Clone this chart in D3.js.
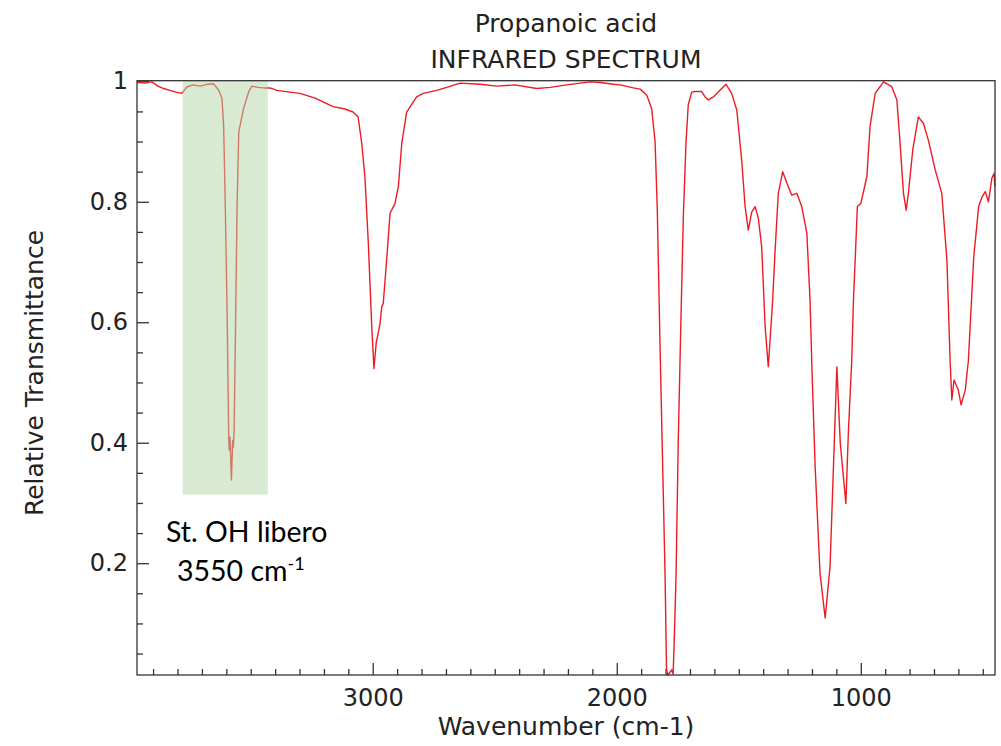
<!DOCTYPE html>
<html>
<head>
<meta charset="utf-8">
<script src="https://cdn.jsdelivr.net/npm/d3@7"></script>
<style>
  body { margin: 0; background: #fff; }
  svg { display: block; }
  .axis text { font-family: "DejaVu Sans", sans-serif; font-size: 24px; fill: #222; }
  .axis line { stroke: #333; stroke-width: 1.3; }
</style>
</head>
<body>
<script>
// spectrum: wavenumber (cm-1) and relative transmittance
const wavenumbers = [
  3966, 3933, 3905, 3880, 3857, 3831, 3806, 3782, 3761, 3736, 3708, 3679, 3652,
  3631, 3618, 3611, 3604, 3597, 3590, 3588, 3585, 3579, 3574, 3571, 3568, 3563,
  3556, 3549, 3529, 3508, 3495, 3470, 3447, 3421, 3392, 3339, 3298, 3236, 3163,
  3114, 3081, 3060, 3045, 3032, 3018, 3004, 2995, 2986, 2970, 2963, 2957, 2943,
  2929, 2909, 2895, 2881, 2861, 2820, 2793, 2738, 2697, 2642, 2560, 2492, 2417,
  2328, 2273, 2205, 2109, 2068, 2014, 1986, 1932, 1904, 1877, 1857, 1843, 1834,
  1823, 1811, 1802, 1796, 1790, 1782, 1775, 1769, 1765, 1757, 1748, 1738, 1727,
  1716, 1707, 1693, 1679, 1652, 1638, 1625, 1604, 1577, 1552, 1529, 1508, 1488,
  1474, 1461, 1447, 1433, 1420, 1406, 1392, 1379, 1361, 1351, 1338, 1320, 1303,
  1283, 1262, 1242, 1221, 1208, 1200, 1187, 1167, 1146, 1126, 1112, 1098, 1084,
  1061, 1051, 1037, 1030, 1023, 1014, 1000, 975, 962, 941, 907, 873, 852, 839,
  825, 814, 805, 787, 764, 743, 723, 695, 668, 647, 634, 627, 618, 600, 589, 572,
  559, 537, 517, 503, 490, 477, 463, 454, 450
];
const transmittance = [
  0.998, 0.997, 0.999, 0.992, 0.988, 0.985, 0.982, 0.980, 0.991, 0.994, 0.992, 0.995, 0.996,
  0.985, 0.972, 0.927, 0.790, 0.624, 0.404, 0.388, 0.409, 0.338, 0.404, 0.393, 0.421, 0.568,
  0.790, 0.916, 0.955, 0.983, 0.992, 0.990, 0.989, 0.989, 0.985, 0.982, 0.980, 0.972, 0.958,
  0.954, 0.949, 0.941, 0.897, 0.841, 0.731, 0.593, 0.523, 0.565, 0.598, 0.626, 0.631, 0.703,
  0.781, 0.797, 0.825, 0.897, 0.949, 0.974, 0.980, 0.985, 0.990, 0.997, 0.995, 0.992, 0.994,
  0.988, 0.990, 0.994, 0.999, 0.998, 0.995, 0.994, 0.989, 0.987, 0.977, 0.955, 0.900, 0.789,
  0.568, 0.346, 0.180, 0.023, 0.0144, 0.019, 0.023, 0.016, 0.064, 0.180, 0.402, 0.587, 0.778,
  0.900, 0.961, 0.982, 0.983, 0.983, 0.974, 0.969, 0.974, 0.985, 0.995, 0.980, 0.952, 0.869,
  0.792, 0.753, 0.783, 0.792, 0.773, 0.725, 0.593, 0.526, 0.637, 0.720, 0.814, 0.850, 0.831,
  0.811, 0.814, 0.792, 0.748, 0.637, 0.521, 0.360, 0.183, 0.109, 0.194, 0.360, 0.526, 0.399,
  0.299, 0.416, 0.537, 0.637, 0.703, 0.792, 0.797, 0.842, 0.925, 0.980, 0.999, 0.991, 0.969, 0.897,
  0.814, 0.786, 0.814, 0.886, 0.941, 0.930, 0.902, 0.853, 0.814, 0.703, 0.537, 0.471, 0.504, 0.487, 0.463, 0.487,
  0.537, 0.709, 0.792, 0.808, 0.817, 0.800, 0.839, 0.847, 0.825
];

const xMajorTicks = [3000, 2000, 1000];
const yMajorTicks = [0.2, 0.4, 0.6, 0.8, 1];

// highlighted O-H stretch band
const bandRange = [3779, 3430];
const bandBottom = 0.314;

const titleLines = ["Propanoic acid", "INFRARED SPECTRUM"];

const width = 1001, height = 746;
const margin = { left: 137, right: 6, top: 80.7, bottom: 71 };
const innerW = width - margin.left - margin.right;
const innerH = height - margin.top - margin.bottom;

const data = wavenumbers.map((w, i) => ({ w: w, t: transmittance[i] }));

const x = d3.scaleLinear()
  .domain([3966, 450])
  .range([0, innerW]);

const y = d3.scaleLinear()
  .domain([d3.min(transmittance), 1.001])
  .range([innerH, 0]);

const svg = d3.select('body')
  .append('svg')
  .attr('width', width)
  .attr('height', height);

const g = svg.append('g')
  .attr('transform', `translate(${margin.left}, ${margin.top})`);

// minor ticks
g.append('g').attr('class', 'axis')
  .attr('transform', `translate(0, ${innerH})`)
  .call(d3.axisBottom(x).tickValues(d3.range(500, 3966, 100).filter(v => v % 1000 !== 0))
    .tickSizeInner(-6).tickSizeOuter(0).tickFormat(''))
  .call(a => a.select('.domain').remove());

g.append('g').attr('class', 'axis')
  .call(d3.axisLeft(y).tickValues(d3.range(0.05, 1, 0.05).filter(v => Math.abs(v * 5 - Math.round(v * 5)) > 0.01))
    .tickSizeInner(-6).tickSizeOuter(0).tickFormat(''))
  .call(a => a.select('.domain').remove());

// major ticks
g.append('g').attr('class', 'axis')
  .attr('transform', `translate(0, ${innerH})`)
  .call(d3.axisBottom(x).tickValues(xMajorTicks)
    .tickSizeInner(-12).tickSizeOuter(0).tickPadding(14)
    .tickFormat(d3.format('d')))
  .call(a => a.select('.domain').remove())
  .selectAll('text').attr('dy', '0.71em');

g.append('g').attr('class', 'axis')
  .call(d3.axisLeft(y).tickValues(yMajorTicks)
    .tickSizeInner(-12).tickSizeOuter(0).tickPadding(9)
    .tickFormat(d => d === 1 ? '1' : d.toFixed(1)))
  .call(a => a.select('.domain').remove());

// spectrum
const line = d3.line()
  .x(d => x(d.w))
  .y(d => y(d.t));

g.append('path')
  .datum(data)
  .attr('fill', 'none')
  .attr('stroke', '#ec1c24')
  .attr('stroke-width', 1.4)
  .attr('stroke-linejoin', 'round')
  .attr('d', line);

// green band over the O-H peak
g.append('rect')
  .attr('x', x(bandRange[0]))
  .attr('y', y(1.0))
  .attr('width', x(bandRange[1]) - x(bandRange[0]))
  .attr('height', y(bandBottom) - y(1.0))
  .attr('fill', '#b3d5a7')
  .attr('fill-opacity', 0.5);

// frame
g.append('rect')
  .attr('width', innerW)
  .attr('height', innerH)
  .attr('fill', 'none')
  .attr('stroke', '#333')
  .attr('stroke-width', 1.3);

// titles and axis labels
svg.selectAll('text.title')
  .data(titleLines)
  .enter()
  .append('text')
  .attr('class', 'title')
  .attr('x', margin.left + innerW / 2)
  .attr('y', (d, i) => 31.7 + i * 36.6)
  .attr('text-anchor', 'middle')
  .style('font-family', '"DejaVu Sans", sans-serif')
  .style('font-size', '25px')
  .style('fill', '#222')
  .text(d => d);

svg.append('text')
  .attr('x', margin.left + innerW / 2)
  .attr('y', 735)
  .attr('text-anchor', 'middle')
  .style('font-family', '"DejaVu Sans", sans-serif')
  .style('font-size', '25px')
  .style('fill', '#222')
  .text('Wavenumber (cm-1)');

svg.append('text')
  .attr('transform', `translate(43, 373) rotate(-90)`)
  .attr('text-anchor', 'middle')
  .style('font-family', '"DejaVu Sans", sans-serif')
  .style('font-size', '25px')
  .style('fill', '#222')
  .text('Relative Transmittance');

// annotation
const note = svg.append('g')
  .style('font-family', 'Lato, "Open Sans", sans-serif')
  .style('font-size', '28.5px')
  .style('fill', '#000');

note.append('text')
  .attr('x', 166)
  .attr('y', 541.7)
  .text('St. OH libero');

const l2 = note.append('text')
  .attr('x', 177)
  .attr('y', 581);
l2.append('tspan').text('3550 cm');
l2.append('tspan')
  .attr('dy', -11)
  .style('font-size', '18px')
  .text('-1');
</script>
</body>
</html>
